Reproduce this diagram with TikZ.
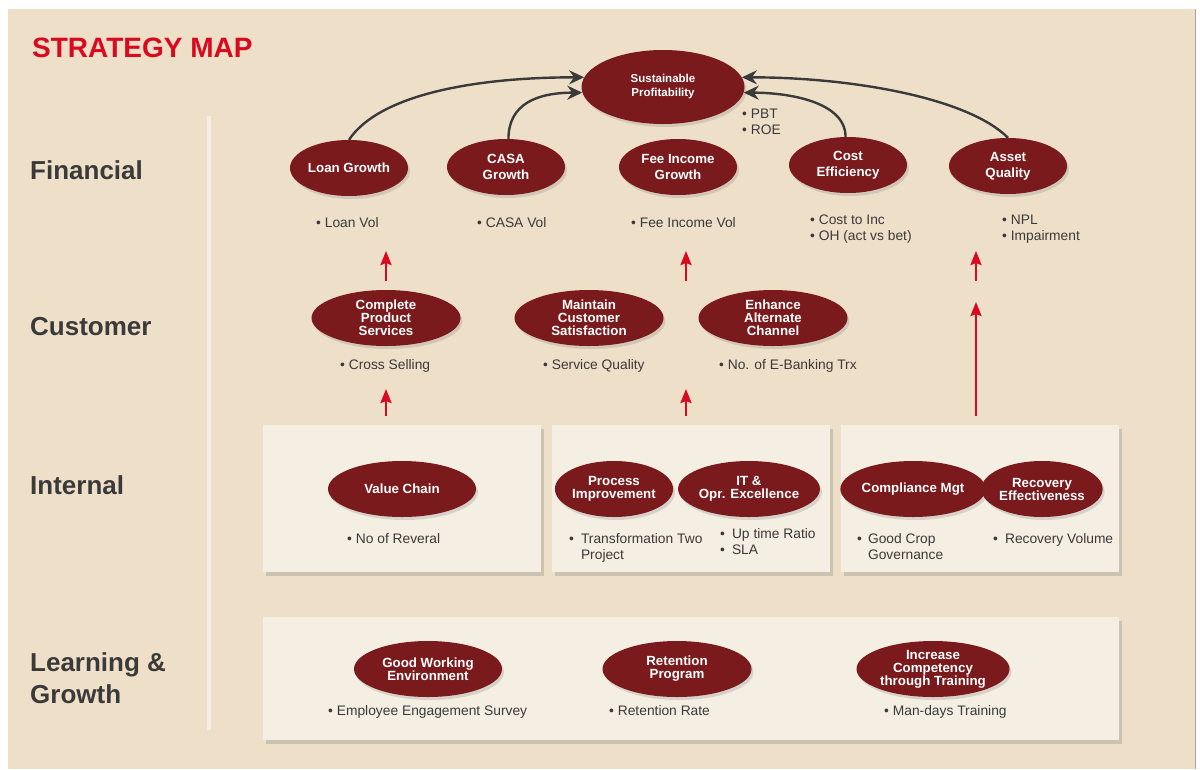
\documentclass[tikz,border=0pt]{standalone}
\usepackage{fontspec}
\setmainfont{Liberation Sans}
\usetikzlibrary{arrows.meta,shapes.geometric,shadows}
\definecolor{paper}{HTML}{EEDFC9}
\definecolor{panel}{HTML}{F5EEE2}
\definecolor{maroon}{HTML}{7A1A1C}
\definecolor{smred}{HTML}{DA0A1E}
\definecolor{ink}{HTML}{3A3A3A}

\begin{document}
\begin{tikzpicture}[x=1pt,y=-1pt,
  obj/.style={ellipse, fill=maroon, text=white, inner sep=0, align=center,
    font=\bfseries\fontsize{13.3}{13}\selectfont,
    drop shadow={shadow xshift=2pt,shadow yshift=-3pt,opacity=.25}},
  fin/.style={obj, minimum width=118pt, minimum height=56pt,
    font=\bfseries\fontsize{13.3}{16}\selectfont},
  kpi/.style={font=\fontsize{13.8}{16}\selectfont, text=ink, inner sep=0,
    align=left, anchor=base west},
  row/.style={font=\bfseries\fontsize{26}{32}\selectfont, text=ink,
    inner sep=0, align=left, anchor=west},
  link/.style={draw=ink, line width=2.4pt, -{Stealth[length=15pt,width=14pt,inset=5pt]}},
  push/.style={draw=smred, line width=2.4pt, -{Stealth[length=14pt,width=11pt,inset=2pt]}}]
  \useasboundingbox (0,0) rectangle (1200,769);
  \fill[white] (0,0) rectangle (1200,769);
  \fill[paper] (8,9) rectangle (1195,769);
  \draw[black!35, line width=1pt] (1195.5,9) -- (1195.5,769);
  \draw[panel, line width=4pt] (209,116) -- (209,730);

  \node[font=\bfseries\fontsize{28}{30}\selectfont, text=smred, inner sep=0, anchor=west] (title) at (32,48) {STRATEGY MAP};
  \node[row] (rfin) at (30,170) {Financial};
  \node[row] (rcus) at (30,327) {Customer};
  \node[row] (rint) at (30,485) {Internal};
  \node[row] (rlg) at (30,678) {Learning \&\\Growth};

  \fill[panel, drop shadow={shadow xshift=3pt,shadow yshift=-4pt,opacity=.3}] (263,425) rectangle (541,572);
  \fill[panel, drop shadow={shadow xshift=3pt,shadow yshift=-4pt,opacity=.3}] (552,425) rectangle (830,572);
  \fill[panel, drop shadow={shadow xshift=3pt,shadow yshift=-4pt,opacity=.3}] (841,425) rectangle (1119,572);
  \fill[panel, drop shadow={shadow xshift=3pt,shadow yshift=-4pt,opacity=.3}] (263,617) rectangle (1119,740);

  \node[obj, minimum width=163pt, minimum height=74pt, font=\bfseries\fontsize{11.5}{14}\selectfont] (profit) at (663,87) {Sustainable\\Profitability};
  \node[kpi] (pbt) at (742,134) {• PBT\\• ROE};

  \node[fin] (loan) at (349,168) {Loan Growth};
  \node[fin] (casa) at (506,167) {CASA\\Growth};
  \node[fin] (fee) at (678,167) {Fee Income\\Growth};
  \node[fin] (cost) at (848,165) {Cost\\Efficiency};
  \node[fin] (asset) at (1008,166) {Asset\\Quality};
  \node[kpi] (loanvol) at (316,227) {• Loan Vol};
  \node[kpi] (casavol) at (477,227) {• CASA Vol};
  \node[kpi] (feevol) at (631,227) {• Fee Income Vol};
  \node[kpi] (costkpi) at (810,240) {• Cost to Inc\\• OH (act vs bet)};
  \node[kpi] (assetkpi) at (1002,240) {• NPL\\• Impairment};

  \draw[link] (loan.north) .. controls +(30,-45) and +(-110,0) .. (profit.173);
  \draw[link] (casa.85) .. controls +(0,-35) and +(-45,0) .. (profit.184);
  \draw[link] (cost.95) .. controls +(0,-35) and +(45,0) .. (profit.356);
  \draw[link] (asset.north) .. controls +(-40,-40) and +(110,0) .. (profit.7);

  \node[obj, minimum width=149pt, minimum height=56pt] (cps) at (386,318) {Complete\\Product\\Services};
  \node[obj, minimum width=149pt, minimum height=56pt] (mcs) at (589,318) {Maintain\\Customer\\Satisfaction};
  \node[obj, minimum width=149pt, minimum height=56pt] (eac) at (773,318) {Enhance\\Alternate\\Channel};
  \node[kpi] (xsell) at (340,369) {• Cross Selling};
  \node[kpi] (svcq) at (543,369) {• Service Quality};
  \node[kpi] (ebank) at (719,369) {• No. of E-Banking Trx};

  \node[obj, minimum width=148pt, minimum height=56pt] (vchain) at (402,489) {Value Chain};
  \node[obj, minimum width=107pt, minimum height=56pt] (procimp) at (614,489) {Process\\Improvement};
  \node[obj, minimum width=137pt, minimum height=56pt] (itopr) at (749,489) {IT \&\\Opr. Excellence};
  \node[obj, minimum width=118pt, minimum height=56pt] (compl) at (913,489) {Compliance Mgt};
  \node[obj, minimum width=121pt, minimum height=56pt] (recov) at (1042,489) {Recovery\\Effectiveness};
  \node[kpi] (reveral) at (347,543) {• No of Reveral};
  \node[kpi] (transf) at (569,559) {•\hspace{7pt}Transformation Two\\\hphantom{•}\hspace{7pt}Project};
  \node[kpi] (uptime) at (720,554) {•\hspace{7pt}Up time Ratio\\•\hspace{7pt}SLA};
  \node[kpi] (crop) at (857,559) {•\hspace{6pt}Good Crop\\\hphantom{•}\hspace{6pt}Governance};
  \node[kpi] (recvol) at (993,543) {•\hspace{7pt}Recovery Volume};

  \node[obj, minimum width=148pt, minimum height=56pt] (gwe) at (428,669) {Good Working\\Environment};
  \node[obj, minimum width=149pt, minimum height=56pt] (retprog) at (677,669) {Retention\\Program};
  \node[obj, minimum width=153pt, minimum height=56pt] (compet) at (933,669) {Increase\\Competency\\through Training};
  \node[kpi] (survey) at (328,715) {• Employee Engagement Survey};
  \node[kpi] (retrate) at (609,715) {• Retention Rate};
  \node[kpi] (mandays) at (884,715) {• Man-days Training};

  \coordinate (ra1) at (386,281); \coordinate (rb1) at (386,251);
  \coordinate (ra2) at (686,281); \coordinate (rb2) at (686,251);
  \coordinate (ra3) at (976,281); \coordinate (rb3) at (976,251);
  \coordinate (ra4) at (386,416); \coordinate (rb4) at (386,389);
  \coordinate (ra5) at (686,416); \coordinate (rb5) at (686,389);
  \coordinate (ra6) at (976,416); \coordinate (rb6) at (976,302);
  \foreach \i in {1,...,6}
    \draw[push] (ra\i) -- (rb\i);
\end{tikzpicture}
\end{document}
